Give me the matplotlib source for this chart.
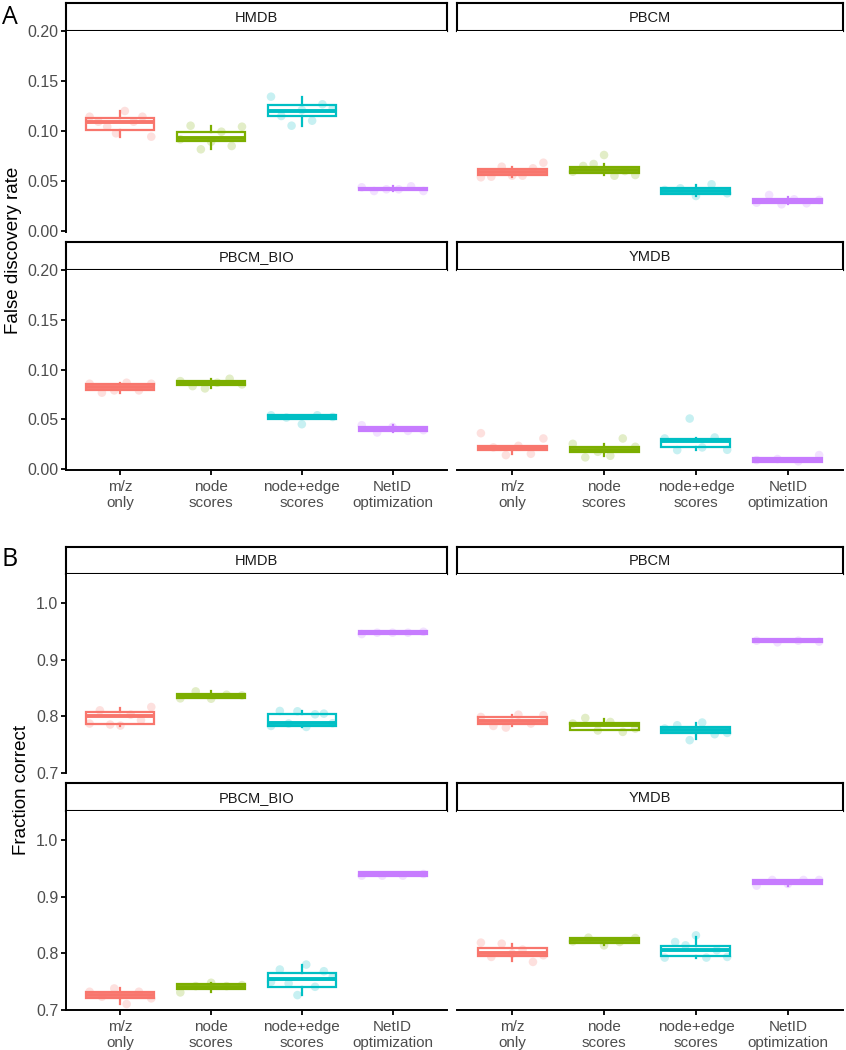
import numpy as np
import matplotlib
matplotlib.use("Agg")
import matplotlib.pyplot as plt

# categories / facets
methods = ["m/z\nonly", "node\nscores", "node+edge\nscores", "NetID\noptimization"]
colors = ["#F8766D", "#7CAE00", "#00BFC4", "#C77CFF"]
facets = ["HMDB", "PBCM", "PBCM_BIO", "YMDB"]

# box stats per method: [whislo, q1, med, q3, whishi]
fdr_hmdb_box = [[0.0943, 0.101, 0.1087, 0.1127, 0.120],
                [0.0817, 0.090, 0.093, 0.0987, 0.105],
                [0.105, 0.115, 0.1203, 0.126, 0.1343],
                [0.040, 0.0407, 0.0417, 0.0427, 0.0453]]
fdr_pbcm_box = [[0.0537, 0.0557, 0.0587, 0.0620, 0.0643],
                [0.0563, 0.0577, 0.0610, 0.0643, 0.067],
                [0.035, 0.037, 0.040, 0.0427, 0.0457],
                [0.0267, 0.0283, 0.0303, 0.0323, 0.034]]
fdr_pbcmbio_box = [[0.0767, 0.079, 0.0823, 0.0857, 0.0867],
                   [0.081, 0.084, 0.0863, 0.0883, 0.0907],
                   [0.0507, 0.0507, 0.0523, 0.054, 0.054],
                   [0.0367, 0.038, 0.0403, 0.0427, 0.044]]
fdr_ymdb_box = [[0.0153, 0.019, 0.021, 0.0233, 0.0233],
                [0.0133, 0.0173, 0.0193, 0.0217, 0.0253],
                [0.019, 0.0217, 0.028, 0.030, 0.0307],
                [0.0073, 0.0073, 0.009, 0.0107, 0.0107]]

frac_hmdb_box = [[0.7836, 0.7865, 0.8005, 0.8076, 0.8146],
                 [0.8316, 0.8316, 0.835, 0.8386, 0.8439],
                 [0.7812, 0.783, 0.789, 0.8047, 0.8094],
                 [0.945, 0.945, 0.9474, 0.9497, 0.9497]]
frac_pbcm_box = [[0.7836, 0.786, 0.7918, 0.7988, 0.8029],
                 [0.7754, 0.7754, 0.7848, 0.7883, 0.7959],
                 [0.7596, 0.7707, 0.776, 0.7812, 0.7883],
                 [0.9304, 0.9304, 0.9333, 0.9363, 0.9363]]
frac_pbcmbio_box = [[0.7105, 0.7205, 0.7263, 0.7322, 0.738],
                    [0.731, 0.7363, 0.741, 0.7456, 0.748],
                    [0.7263, 0.7398, 0.7538, 0.7655, 0.7801],
                    [0.9368, 0.9368, 0.940, 0.9427, 0.9427]]
frac_ymdb_box = [[0.7865, 0.7947, 0.8006, 0.8094, 0.817],
                 [0.814, 0.8188, 0.8228, 0.8269, 0.8269],
                 [0.7924, 0.7953, 0.8053, 0.8129, 0.8287],
                 [0.9193, 0.9222, 0.9257, 0.9293, 0.9293]]

# individual runs (read left to right within each box)
fdr_hmdb_pts = [[0.1143, 0.1093, 0.1043, 0.0977, 0.120, 0.1093, 0.1143, 0.0943],
                [0.0917, 0.1053, 0.0817, 0.0893, 0.0993, 0.085, 0.1043],
                [0.1343, 0.115, 0.1053, 0.121, 0.1103, 0.1267, 0.1227],
                [0.0437, 0.040, 0.0417, 0.0417, 0.0447, 0.040]]
fdr_pbcm_pts = [[0.0537, 0.0543, 0.0643, 0.0553, 0.0553, 0.0627, 0.0683],
                [0.0593, 0.065, 0.067, 0.076, 0.0553, 0.060, 0.056],
                [0.041, 0.0427, 0.035, 0.0467, 0.0377],
                [0.0283, 0.036, 0.0267, 0.0317, 0.0277, 0.031]]
fdr_pbcmbio_pts = [[0.0857, 0.0767, 0.079, 0.0867, 0.079, 0.0857],
                   [0.0883, 0.0833, 0.081, 0.0867, 0.0907, 0.085],
                   [0.054, 0.0517, 0.045, 0.054, 0.0523],
                   [0.044, 0.0367, 0.0423, 0.0383, 0.039]]
fdr_ymdb_pts = [[0.036, 0.0217, 0.014, 0.0233, 0.0153, 0.0307],
                [0.0253, 0.0117, 0.0173, 0.0133, 0.0307, 0.0223],
                [0.0307, 0.019, 0.0507, 0.0217, 0.0317, 0.0193],
                [0.009, 0.010, 0.0077, 0.014]]

frac_hmdb_pts = [[0.7872, 0.8105, 0.7854, 0.7836, 0.803, 0.793, 0.8164],
                 [0.8316, 0.8439, 0.831, 0.838, 0.8368],
                 [0.783, 0.8094, 0.7872, 0.8088, 0.7812, 0.8035, 0.8047, 0.7878],
                 [0.945, 0.9474, 0.9474, 0.9474, 0.9491]]
frac_pbcm_pts = [[0.7988, 0.783, 0.7801, 0.8029, 0.7872, 0.8018],
                 [0.7872, 0.797, 0.775, 0.790, 0.7725, 0.7784],
                 [0.7784, 0.7842, 0.7579, 0.789, 0.7684, 0.7707],
                 [0.9333, 0.9304, 0.9333, 0.9316]]
frac_pbcmbio_pts = [[0.7322, 0.7234, 0.738, 0.7105, 0.7322, 0.7205],
                    [0.731, 0.7421, 0.748, 0.7421, 0.7439],
                    [0.7497, 0.7714, 0.7468, 0.7263, 0.7801, 0.7409, 0.7684, 0.7585],
                    [0.9368, 0.9368, 0.9368, 0.9398]]
frac_ymdb_pts = [[0.8188, 0.7936, 0.817, 0.7994, 0.8064, 0.7848, 0.7965],
                 [0.8211, 0.8275, 0.814, 0.8199, 0.8269],
                 [0.7924, 0.8199, 0.814, 0.8316, 0.7924, 0.8053, 0.7936],
                 [0.9193, 0.9293, 0.9222, 0.9293, 0.9293]]

W, H = 846, 1050
fig = plt.figure(figsize=(W / 100, H / 100), dpi=100)
plt.rcParams['font.family'] = ['Liberation Sans', 'DejaVu Sans']

def px_axes(x0, y0, x1, y1):
    return fig.add_axes([x0 / W, 1 - y1 / H, (x1 - x0) / W, (y1 - y0) / H])

def draw_strip(x0, y0, x1, y1, label):
    s = px_axes(x0, y0, x1, y1)
    s.set_xticks([])
    s.set_yticks([])
    for sp in s.spines.values():
        sp.set_linewidth(1.5)
        sp.set_color("black")
    s.text(0.5, 0.48, label, ha="center", va="center", fontsize=10.5,
           color="#1A1A1A", transform=s.transAxes)

def draw_panel(rect, strip_top, label, box, pts, ylim, yticks, yfmt, left, bottom):
    x0, y0, x1, y1 = rect
    draw_strip(x0, strip_top, x1, y0, label)
    ax = px_axes(x0, y0, x1, y1)
    for i, b in enumerate(box):
        c = colors[i]
        st = dict(whislo=b[0], q1=b[1], med=b[2], q3=b[3], whishi=b[4], fliers=[])
        ax.bxp([st], positions=[i + 1], widths=0.75, showcaps=False, showfliers=False,
               patch_artist=True,
               boxprops=dict(facecolor="white", edgecolor=c, linewidth=1.6),
               whiskerprops=dict(color=c, linewidth=1.6),
               medianprops=dict(color=c, linewidth=2.8, solid_capstyle="butt"),
               zorder=2)
        vals = pts[i]
        xs = i + 1 + np.linspace(-0.34, 0.34, len(vals))
        ax.scatter(xs, vals, s=38, color=c, alpha=0.22, edgecolors="none", zorder=3)
    ax.set_xlim(0.4, 4.6)
    ax.set_ylim(*ylim)
    for sp in ["top", "right"]:
        ax.spines[sp].set_visible(False)
    ax.spines["left"].set_visible(left)
    ax.spines["bottom"].set_visible(bottom)
    ax.spines["left"].set_linewidth(1.4)
    ax.spines["bottom"].set_linewidth(1.4)
    ax.tick_params(length=3.5, width=1.3, color="black", labelcolor="#4D4D4D", pad=2)
    if left:
        ax.set_yticks(yticks)
        ax.set_yticklabels([yfmt.format(v) for v in yticks], fontsize=11.5)
    else:
        ax.set_yticks([])
    if bottom:
        ax.set_xticks([1, 2, 3, 4])
        ax.set_xticklabels(methods, linespacing=1.15, fontsize=11)
        ax.tick_params(axis="x", pad=4)
    else:
        ax.set_xticks([])
    return ax

cols = [(66, 447), (457, 843)]

# panel A
fdr_box = [fdr_hmdb_box, fdr_pbcm_box, fdr_pbcmbio_box, fdr_ymdb_box]
fdr_pts = [fdr_hmdb_pts, fdr_pbcm_pts, fdr_pbcmbio_pts, fdr_ymdb_pts]
a_rows = [(3, 31, 232), (242, 270, 470)]
fdr_ticks = [0.0, 0.05, 0.10, 0.15, 0.20]
for k in range(4):
    r, c = divmod(k, 2)
    st, y0, y1 = a_rows[r]
    draw_panel((cols[c][0], y0, cols[c][1], y1), st, facets[k], fdr_box[k], fdr_pts[k],
               (-0.001, 0.2), fdr_ticks, "{:.2f}", c == 0, r == 1)

# panel B
frac_box = [frac_hmdb_box, frac_pbcm_box, frac_pbcmbio_box, frac_ymdb_box]
frac_pts = [frac_hmdb_pts, frac_pbcm_pts, frac_pbcmbio_pts, frac_ymdb_pts]
b_rows = [(547, 574, 773), (783, 811, 1010)]
frac_ticks = [0.7, 0.8, 0.9, 1.0]
for k in range(4):
    r, c = divmod(k, 2)
    st, y0, y1 = b_rows[r]
    draw_panel((cols[c][0], y0, cols[c][1], y1), st, facets[k], frac_box[k], frac_pts[k],
               (0.7, 1.0509), frac_ticks, "{:.1f}", c == 0, r == 1)

fig.text(14 / W, 1 - 250 / H, "False discovery rate", rotation=90, ha="center",
         va="center", fontsize=13.5, color="black")
fig.text(22 / W, 1 - 790 / H, "Fraction correct", rotation=90, ha="center",
         va="center", fontsize=13.5, color="black")
fig.text(10 / W, 1 - 18 / H, "A", ha="center", va="center", fontsize=18,
         family=["Open Sans", "DejaVu Sans"])
fig.text(10 / W, 1 - 560 / H, "B", ha="center", va="center", fontsize=18,
         family=["Open Sans", "DejaVu Sans"])

fig.savefig("out.png", dpi=100)
